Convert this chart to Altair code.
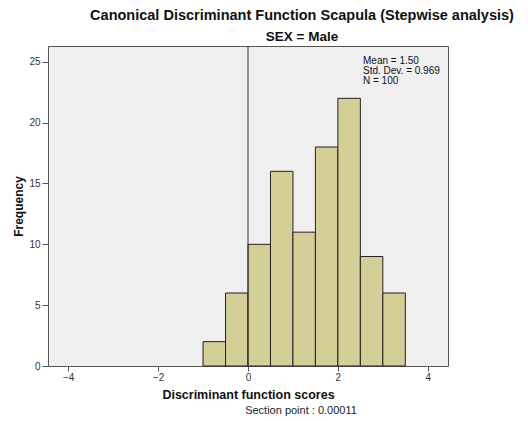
import altair as alt
import pandas as pd

bin_start = [-1.0, -0.5, 0.0, 0.5, 1.0, 1.5, 2.0, 2.5, 3.0]
bin_end = [-0.5, 0.0, 0.5, 1.0, 1.5, 2.0, 2.5, 3.0, 3.5]
counts = [2, 6, 10, 16, 11, 18, 22, 9, 6]
section_point = [0.00011]
stats_lines = ["Mean = 1.50", "Std. Dev. = 0.969", "N = 100"]
x_ticks = [-4, -2, 0, 2, 4]
y_ticks = [0, 5, 10, 15, 20, 25]

df = pd.DataFrame({"start": bin_start, "end": bin_end, "count": counts})
sp = pd.DataFrame({"sp": section_point})

W, H = 400, 320
FONT = "Liberation Sans"

xscale = alt.Scale(domain=[-4.45, 4.45], nice=False, zero=False)
yscale = alt.Scale(domain=[0, 26.3], nice=False)

bars = alt.Chart(df).mark_rect(
    fill="#D3CF97", stroke="#222222", strokeWidth=1
).encode(
    x=alt.X("start:Q", scale=xscale,
            axis=alt.Axis(values=x_ticks, title="Discriminant function scores",
                          grid=False, tickSize=5, labelPadding=1, domain=False,
                          labelFontSize=10, labelColor="#333333", tickColor="#555555",
                          titleFontSize=12.5, titleFontWeight="bold", titleColor="#111111",
                          titlePadding=6, labelFont=FONT, titleFont=FONT)),
    x2="end:Q",
    y=alt.Y("count:Q", scale=yscale,
            axis=alt.Axis(values=y_ticks, title="Frequency", grid=False,
                          tickSize=6, labelPadding=2, domain=False,
                          labelFontSize=10, labelColor="#333333", tickColor="#555555",
                          titleFontSize=12, titleFontWeight="bold", titleColor="#111111",
                          titlePadding=3, labelFont=FONT, titleFont=FONT)),
    y2=alt.datum(0),
)

rule = alt.Chart(sp).mark_rule(color="#333333", strokeWidth=1).encode(
    x=alt.X("sp:Q", scale=xscale)
)

stats = alt.Chart(pd.DataFrame({"t": [stats_lines]})).mark_text(
    align="left", baseline="alphabetic", fontSize=10, font=FONT, color="#111111",
    lineHeight=10
).encode(
    x=alt.value(315), y=alt.value(18), text="t"
)

section = alt.Chart(pd.DataFrame({"t": ["Section point : " + str(section_point[0])]})).mark_text(
    align="center", baseline="alphabetic", fontSize=11, font=FONT, color="#222222"
).encode(
    x=alt.value(253), y=alt.value(368), text="t"
)

chart = alt.layer(bars, rule, stats, section).properties(
    width=W, height=H,
    title=alt.TitleParams(
        "Canonical Discriminant Function Scapula (Stepwise analysis)",
        subtitle="SEX = Male",
        anchor="middle", dx=54, fontSize=14.5, font=FONT, fontWeight="bold",
        color="#111111", subtitleFontSize=13.5, subtitleFont=FONT,
        subtitleFontWeight="bold", subtitleColor="#111111",
        subtitlePadding=7, offset=1,
    ),
    autosize=alt.AutoSizeParams(type="none"),
    padding={"left": 40, "top": 38, "right": 72, "bottom": 50},
).configure_view(
    fill="#EFEFEF", stroke="#555555", strokeWidth=1
)

chart.save("out.html", embed_options={"renderer": "svg", "actions": False})
